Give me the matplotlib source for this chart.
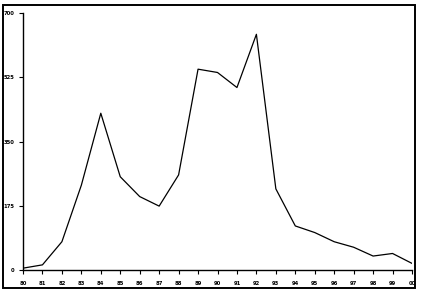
import matplotlib
matplotlib.use('Agg')
import matplotlib.pyplot as plt
from matplotlib.patches import Rectangle

# Values
years = list(range(1980, 2001))
year_labels = ['%02d' % (y % 100) for y in years]
values = [5, 14, 77, 231, 427, 254, 200, 174, 259, 547, 538, 497, 642,
          221, 120, 102, 77, 62, 38, 45, 18]
y_ticks = [0, 175, 350, 525, 700]

W, H = 421, 294
fig = plt.figure(figsize=(W / 100, H / 100), dpi=100)
fig.patch.set_facecolor('white')

# outer frame around the chart
fig.patches.append(Rectangle((3 / W, 1 - 288 / H), 412 / W, 283 / H,
                             transform=fig.transFigure, fill=False,
                             edgecolor='black', linewidth=1.4))

ax = fig.add_axes([23 / W, 1 - 270 / H, 389 / W, 257 / H])
ax.plot(years, values, color='black', linewidth=0.9)

ax.set_xlim(years[0], years[-1])
ax.set_ylim(0, 700)
ax.set_xticks(years)
ax.set_xticklabels(year_labels)
ax.set_yticks(y_ticks)
ax.set_yticklabels([str(t) for t in y_ticks])

for s in ['top', 'right']:
    ax.spines[s].set_visible(False)
for s in ['left', 'bottom']:
    ax.spines[s].set_linewidth(1.0)

ax.tick_params(axis='both', direction='out', length=3, width=0.8,
               labelsize=3.8)
ax.tick_params(axis='x', pad=5)
ax.tick_params(axis='y', pad=3)
for lab in ax.get_xticklabels() + ax.get_yticklabels():
    lab.set_fontweight('bold')

fig.savefig('out.png', dpi=100, facecolor='white')
